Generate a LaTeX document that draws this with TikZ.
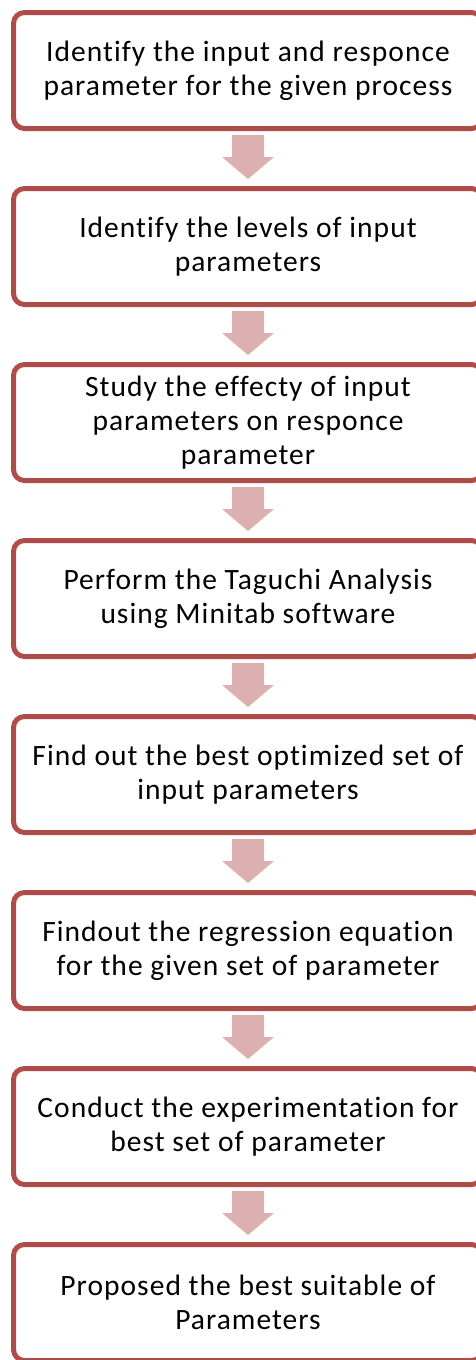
\documentclass[tikz,border=0pt]{standalone}
\usepackage{fontspec}
\setmainfont{Carlito}[Ligatures=NoCommon,LetterSpace=3.5]
\usetikzlibrary{calc}
\definecolor{boxborder}{RGB}{176,76,72}
\definecolor{arrowfill}{RGB}{221,176,176}
\newcommand\flowarrow[1]{%
  \fill[arrowfill] ($(#1.south)+(-16,6.5)$) -- ($(#1.south)+(16,6.5)$) --
    ($(#1.south)+(16,28.5)$) -- ($(#1.south)+(26,28.5)$) --
    ($(#1.south)+(0,50.5)$) -- ($(#1.south)+(-26,28.5)$) --
    ($(#1.south)+(-16,28.5)$) -- cycle;}
\begin{document}
\begin{tikzpicture}[x=1pt,y=-1pt,
  stepbox/.style={draw=boxborder, line width=5pt, rounded corners=11pt, fill=white,
    minimum width=469pt, minimum height=116pt, outer sep=0pt, inner sep=0pt,
    align=center, font=\fontsize{29.5}{34}\selectfont, text=black}]
\useasboundingbox (0,0) rectangle (476,1360);
\node[stepbox] (b1) at (248,70.5) {Identify the input and responce\\parameter for the given process};
\node[stepbox] (b2) at (248,246.5) {Identify the levels of input\\parameters};
\node[stepbox] (b3) at (248,422.5) {Study the effecty of input\\parameters on responce\\parameter};
\node[stepbox] (b4) at (248,598.5) {Perform the Taguchi Analysis\\using Minitab software};
\node[stepbox] (b5) at (248,774.5) {Find out the best optimized set of\\input parameters};
\node[stepbox] (b6) at (248,950.5) {Findout the regression equation\\for the given set of parameter};
\node[stepbox] (b7) at (248,1126.5) {Conduct the experimentation for\\best set of parameter};
\node[stepbox] (b8) at (248,1302.5) {Proposed the best suitable of\\Parameters};
\foreach \n in {b1,b2,b3,b4,b5,b6,b7} {\flowarrow{\n}}
\end{tikzpicture}
\end{document}
